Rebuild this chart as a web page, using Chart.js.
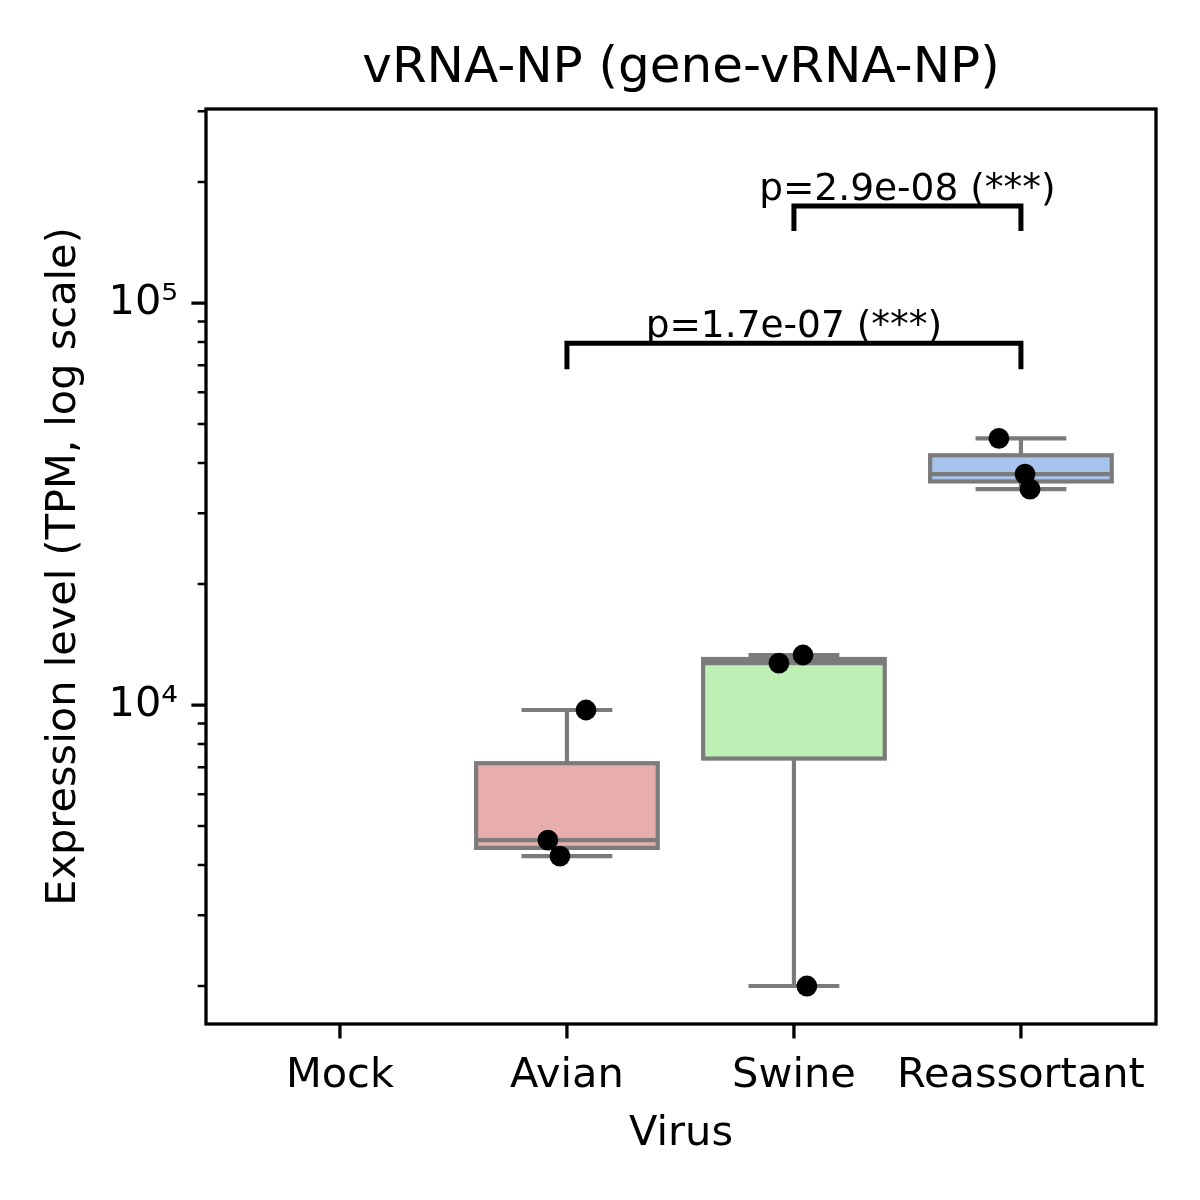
<!DOCTYPE html>
<html>
<head>
<meta charset="utf-8">
<script src="https://cdn.jsdelivr.net/npm/chart.js@4.4.1/dist/chart.umd.min.js"></script>
<style>
  body { margin: 0; background: #fff; }
  #wrap { width: 1200px; height: 1200px; }
</style>
</head>
<body>
<div id="wrap"><canvas id="boxChart" width="1200" height="1200"></canvas></div>
<script>
// data
const categories = ["Mock", "Avian", "Swine", "Reassortant"];
const mockValues = [];
const avianValues = [9720, 4615, 4210];
const swineValues = [12720, 13320, 2000];
const reassortantValues = [46100, 37550, 34450];
// horizontal jitter of the strip points (category units)
const avianJitter = [0.084, -0.084, -0.031];
const swineJitter = [-0.066, 0.040, 0.057];
const reassortantJitter = [-0.097, 0.018, 0.040];

const yMajorTicks = [10000, 100000];
const yMajorLabels = ["10⁴", "10⁵"];
const yMinorTicks = [2000, 3000, 4000, 5000, 6000, 7000, 8000, 9000,
    20000, 30000, 40000, 50000, 60000, 70000, 80000, 90000, 200000, 300000];

// significance brackets
const pairStart = [1, 2];
const pairEnd = [3, 3];
const bracketTop = [79500, 174300];
const bracketLeg = [68500, 151100];
const pLabels = ["p=1.7e-07 (***)", "p=2.9e-08 (***)"];

const groups = [mockValues, avianValues, swineValues, reassortantValues];
const jitters = [[], avianJitter, swineJitter, reassortantJitter];
const boxColors = [null, "#e8aeae", "#bef0b5", "#a8c4ec"];
const edgeColor = "#7b7b7b";
const FONT = "'DejaVu Sans', sans-serif";

function quantile(sorted, q) {
    const pos = (sorted.length - 1) * q;
    const lo = Math.floor(pos), hi = Math.ceil(pos);
    return sorted[lo] + (sorted[hi] - sorted[lo]) * (pos - lo);
}

const points = [];
groups.forEach(function (vals, i) {
    vals.forEach(function (v, j) {
        points.push({ x: i + jitters[i][j], y: v });
    });
});

const boxPlugin = {
    id: "boxes",
    beforeDatasetsDraw(chart) {
        const { ctx, scales: { x, y } } = chart;
        ctx.save();
        ctx.lineWidth = 4.2;
        ctx.strokeStyle = edgeColor;
        groups.forEach(function (vals, i) {
            if (!vals.length) return;
            const s = vals.slice().sort((a, b) => a - b);
            const q1 = quantile(s, 0.25), med = quantile(s, 0.5), q3 = quantile(s, 0.75);
            const iqr = q3 - q1;
            const lowW = s.filter(v => v >= q1 - 1.5 * iqr)[0];
            const highW = s.filter(v => v <= q3 + 1.5 * iqr).slice(-1)[0];
            const xl = x.getPixelForValue(i - 0.4), xr = x.getPixelForValue(i + 0.4);
            const xc = x.getPixelForValue(i);
            const cl = x.getPixelForValue(i - 0.2), cr = x.getPixelForValue(i + 0.2);
            const yq1 = y.getPixelForValue(q1), yq3 = y.getPixelForValue(q3);
            ctx.fillStyle = boxColors[i];
            ctx.fillRect(xl, yq3, xr - xl, yq1 - yq3);
            ctx.strokeRect(xl, yq3, xr - xl, yq1 - yq3);
            ctx.beginPath();
            ctx.moveTo(xc, yq1); ctx.lineTo(xc, y.getPixelForValue(lowW));
            ctx.moveTo(xc, yq3); ctx.lineTo(xc, y.getPixelForValue(highW));
            ctx.moveTo(cl, y.getPixelForValue(lowW)); ctx.lineTo(cr, y.getPixelForValue(lowW));
            ctx.moveTo(cl, y.getPixelForValue(highW)); ctx.lineTo(cr, y.getPixelForValue(highW));
            ctx.moveTo(xl, y.getPixelForValue(med)); ctx.lineTo(xr, y.getPixelForValue(med));
            ctx.stroke();
        });
        ctx.restore();
    },
    afterDatasetsDraw(chart) {
        const { ctx, scales: { x, y } } = chart;
        ctx.save();
        ctx.strokeStyle = "#000";
        ctx.lineWidth = 5;
        ctx.fillStyle = "#000";
        ctx.font = "37.5px " + FONT;
        ctx.textAlign = "center";
        ctx.textBaseline = "alphabetic";
        pLabels.forEach(function (label, k) {
            const x1 = x.getPixelForValue(pairStart[k]), x2 = x.getPixelForValue(pairEnd[k]);
            const yt = y.getPixelForValue(bracketTop[k]), yl = y.getPixelForValue(bracketLeg[k]);
            ctx.beginPath();
            ctx.moveTo(x1, yl); ctx.lineTo(x1, yt); ctx.lineTo(x2, yt); ctx.lineTo(x2, yl);
            ctx.stroke();
            ctx.fillText(label, (x1 + x2) / 2, yt - 6);
        });
        ctx.restore();
    },
    afterDraw(chart) {
        const { ctx, chartArea: a, scales: { x, y } } = chart;
        ctx.save();
        ctx.strokeStyle = "#000";
        ctx.lineWidth = 3.3;
        ctx.strokeRect(a.left, a.top, a.right - a.left, a.bottom - a.top);
        ctx.beginPath();
        x.ticks.forEach(function (t) {
            const px = x.getPixelForValue(t.value);
            ctx.moveTo(px, a.bottom); ctx.lineTo(px, a.bottom + 14.6);
        });
        y.ticks.forEach(function (t) {
            if (yMajorTicks.indexOf(t.value) < 0) return;
            const py = y.getPixelForValue(t.value);
            ctx.moveTo(a.left, py); ctx.lineTo(a.left - 14.6, py);
        });
        ctx.stroke();
        ctx.lineWidth = 2.5;
        ctx.beginPath();
        y.ticks.forEach(function (t) {
            if (yMajorTicks.indexOf(t.value) >= 0) return;
            const py = y.getPixelForValue(t.value);
            ctx.moveTo(a.left, py); ctx.lineTo(a.left - 8.3, py);
        });
        ctx.stroke();
        ctx.restore();
    }
};

new Chart(document.getElementById("boxChart"), {
    type: "scatter",
    data: {
        datasets: [
            {
                data: points,
                backgroundColor: "#000",
                borderWidth: 0,
                pointRadius: 10.4,
            },
        ],
    },
    options: {
        responsive: false,
        animation: false,
        layout: { padding: { left: 0, right: 44, top: 0, bottom: 0 } },
        scales: {
            x: {
                type: "linear",
                min: -0.59,
                max: 3.595,
                grid: { display: false, drawTicks: false },
                border: { display: false },
                afterBuildTicks: function (scale) {
                    scale.ticks = categories.map((c, i) => ({ value: i }));
                },
                afterFit: function (scale) { scale.height = 176; },
                ticks: {
                    autoSkip: false,
                    maxRotation: 0,
                    padding: 27,
                    color: "#000",
                    font: { family: FONT, size: 41.5 },
                    callback: (v) => categories[v],
                },
                title: {
                    display: true,
                    text: "Virus",
                    color: "#000",
                    font: { family: FONT, size: 41.5 },
                    padding: { top: 0, bottom: 41 },
                },
            },
            y: {
                type: "logarithmic",
                min: 1609,
                max: 304000,
                grid: { display: false, drawTicks: false },
                border: { display: false },
                afterBuildTicks: function (scale) {
                    scale.ticks = yMinorTicks.concat(yMajorTicks)
                        .sort((a, b) => a - b)
                        .map(v => ({ value: v }));
                },
                afterFit: function (scale) { scale.width = 206; },
                ticks: {
                    autoSkip: false,
                    padding: 28,
                    color: "#000",
                    font: { family: FONT, size: 41.5 },
                    callback: function (v) {
                        const k = yMajorTicks.indexOf(v);
                        return k >= 0 ? yMajorLabels[k] : "";
                    },
                },
                title: {
                    display: true,
                    text: "Expression level (TPM, log scale)",
                    color: "#000",
                    font: { family: FONT, size: 41.5 },
                    padding: { top: 39, bottom: 0 },
                },
            },
        },
        plugins: {
            legend: { display: false },
            tooltip: { enabled: false },
            title: {
                display: true,
                fullSize: false,
                text: "vRNA-NP (gene-vRNA-NP)",
                color: "#000",
                font: { family: FONT, size: 50, weight: "normal" },
                padding: { top: 39, bottom: 10 },
            },
        },
    },
    plugins: [boxPlugin],
});
</script>
</body>
</html>
